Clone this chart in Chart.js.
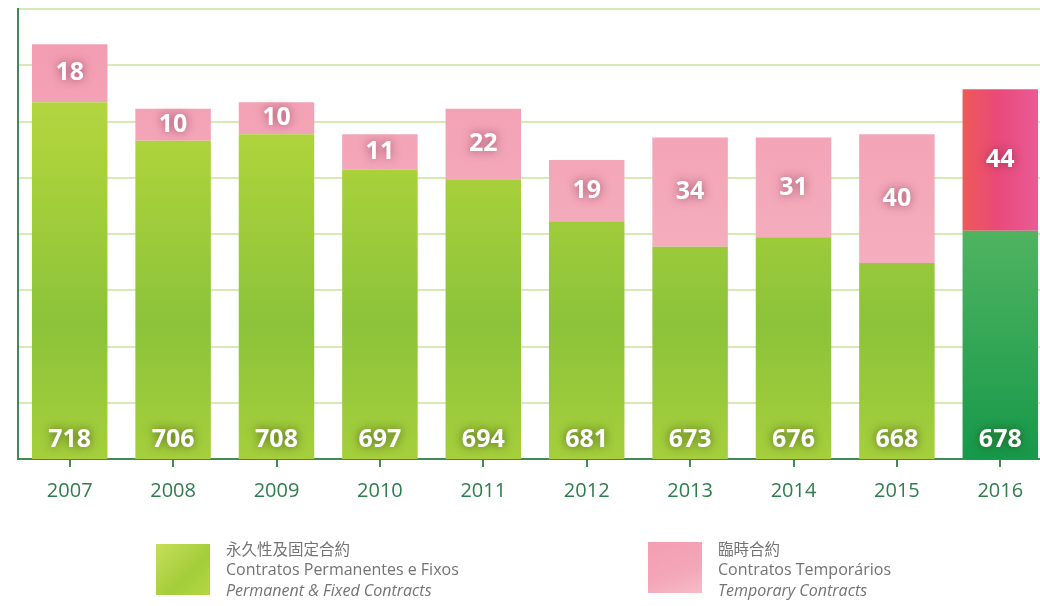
<!DOCTYPE html>
<html>
<head>
<meta charset="utf-8">
<script src="https://cdn.jsdelivr.net/npm/chart.js@4.4.0/dist/chart.umd.min.js"></script>
<style>
  body { margin: 0; background: #fff; overflow: hidden; }
  #wrap { position: relative; width: 1052px; height: 606px; }
  .legend { position: absolute; font-family: "Open Sans", sans-serif; font-size: 16px; color: #737373; line-height: 21px; }
  .legend .sw { position: absolute; width: 54px; height: 51px; }
  .legend .txt { position: absolute; white-space: nowrap; }
  .legend .cjk { font-family: "Noto Sans CJK TC", sans-serif; font-size: 15.5px; }
  .legend i { font-style: italic; }
</style>
</head>
<body>
<div id="wrap">
  <canvas id="contractChart"></canvas>
  <div class="legend" style="left:156px; top:544px;">
    <div class="sw" style="background: linear-gradient(135deg, #c6df5a, #a3cd3a 60%, #b5d744);"></div>
    <div class="txt" style="left:70px; top:-6px;">
      <div class="cjk">永久性及固定合約</div>
      <div>Contratos Permanentes e Fixos</div>
      <div><i>Permanent &amp; Fixed Contracts</i></div>
    </div>
  </div>
  <div class="legend" style="left:648px; top:542px;">
    <div class="sw" style="background: linear-gradient(160deg, #f49db1, #f3a7b8 60%, #f6bcc8);"></div>
    <div class="txt" style="left:70px; top:-4px;">
      <div class="cjk">臨時合約</div>
      <div>Contratos Temporários</div>
      <div><i>Temporary Contracts</i></div>
    </div>
  </div>
</div>
<script>
const years = ["2007", "2008", "2009", "2010", "2011", "2012", "2013", "2014", "2015", "2016"];
const permanentContracts = [718, 706, 708, 697, 694, 681, 673, 676, 668, 678];
const temporaryContracts = [18, 10, 10, 11, 22, 19, 34, 31, 40, 44];

const axisGreen = "#3f8a55";
const gridGreen = "#d6eab8";

function greenFill(context) {
    const chart = context.chart;
    const area = chart.chartArea;
    if (!area) return "#a5cf3a";
    const g = chart.ctx.createLinearGradient(0, area.top, 0, area.bottom);
    if (context.dataIndex === 9) {
        g.addColorStop(0, "#79c77a");
        g.addColorStop(0.5, "#4fb360");
        g.addColorStop(1, "#16994a");
    } else {
        g.addColorStop(0, "#c0da4a");
        g.addColorStop(0.35, "#a9d13a");
        g.addColorStop(0.7, "#8cc33a");
        g.addColorStop(1, "#a5cf3c");
    }
    return g;
}

function pinkFill(context) {
    const chart = context.chart;
    const area = chart.chartArea;
    if (!area) return "#f3a3b5";
    if (context.dataIndex === 9) {
        const g = chart.ctx.createLinearGradient(960, 0, 1036, 0);
        g.addColorStop(0, "#ee5a55");
        g.addColorStop(0.5, "#e94a7a");
        g.addColorStop(1, "#ea5a95");
        return g;
    }
    const g = chart.ctx.createLinearGradient(0, area.top, 0, area.top + 250);
    g.addColorStop(0, "#f39ab0");
    g.addColorStop(1, "#f4aebd");
    return g;
}

const valueLabels = {
    id: "valueLabels",
    afterDatasetsDraw(chart) {
        const ctx = chart.ctx;
        const bottom = chart.chartArea.bottom;
        ctx.save();
        ctx.font = "bold 25px 'Open Sans', sans-serif";
        ctx.fillStyle = "#ffffff";
        ctx.textAlign = "center";
        ctx.textBaseline = "middle";
        chart.data.datasets.forEach((ds, di) => {
            const meta = chart.getDatasetMeta(di);
            meta.data.forEach((bar, i) => {
                const props = bar.getProps(["x", "y", "base"], true);
                const y = di === 0 ? bottom - 19 : (props.y + props.base) / 2;
                ctx.shadowColor = di === 0 ? "rgba(50,60,20,0.75)" : "rgba(120,40,70,0.7)";
                ctx.shadowBlur = 10;
                ctx.fillText(String(ds.data[i]), props.x, y);
            });
        });
        ctx.restore();
    }
};

const ctx = document.getElementById("contractChart").getContext("2d");
new Chart(ctx, {
    type: "bar",
    data: {
        labels: years,
        datasets: [{
            label: "Permanent & Fixed Contracts",
            data: permanentContracts,
            backgroundColor: greenFill,
            barPercentage: 0.73,
            categoryPercentage: 1
        }, {
            label: "Temporary Contracts",
            data: temporaryContracts,
            backgroundColor: pinkFill,
            barPercentage: 0.73,
            categoryPercentage: 1
        }]
    },
    options: {
        responsive: true,
        maintainAspectRatio: false,
        animation: false,
        layout: { padding: { left: 18, right: 0, top: 9, bottom: 91 } },
        plugins: {
            legend: { display: false },
            tooltip: { enabled: false }
        },
        scales: {
            x: {
                stacked: true,
                border: { color: axisGreen, width: 2 },
                grid: { offset: false, drawOnChartArea: false, color: axisGreen, lineWidth: 2, tickLength: 8 },
                ticks: { color: "#2f7d4e", padding: 12, font: { family: "'Open Sans', sans-serif", size: 20 } }
            },
            y: {
                stacked: true,
                min: 607,
                max: 747,
                border: { color: axisGreen, width: 2 },
                grid: { color: gridGreen, lineWidth: 2, drawTicks: false },
                ticks: { display: false, stepSize: 17.5 }
            }
        }
    },
    plugins: [valueLabels]
});
</script>
</body>
</html>
